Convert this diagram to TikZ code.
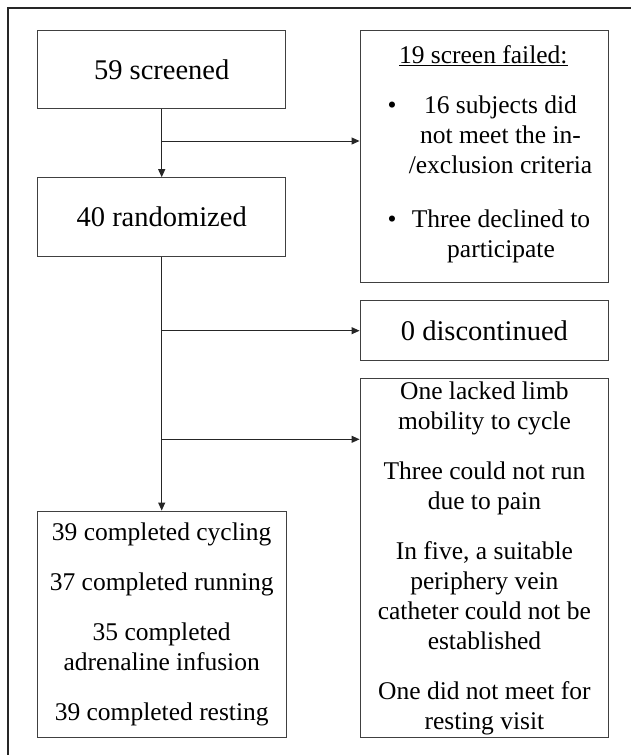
\documentclass[tikz,border=0pt]{standalone}
\usepackage{fontspec}
\setmainfont{Liberation Serif}
\usetikzlibrary{arrows.meta}
\newcommand{\letragrande}{\fontsize{28.5}{33}\selectfont}
\newcommand{\letrachica}{\fontsize{25.5}{30}\selectfont}
\newcommand{\lineas}[1]{\begin{tabular}[t]{@{}c@{}}#1\end{tabular}}
\tikzset{
  caja/.style={draw=black!75, line width=1pt, inner sep=0pt, align=center},
  flecha/.style={draw=black!85, line width=1pt, -{Triangle[length=8pt,width=7pt]}},
}

\begin{document}
\begin{tikzpicture}[x=1pt,y=-1pt] % unidades en pixeles
    \useasboundingbox (0,0) rectangle (631,755);
    % marco exterior
    \draw[black!85, line width=1.8pt] (8.3,755) -- (8.3,8.3) -- (631,8.3);
    % columna izquierda
    \node[caja, minimum width=248.4pt, minimum height=78.7pt, font=\letragrande] (screened) at (161.7,69.4) {59 screened};
    \node[caja, minimum width=248.4pt, minimum height=79pt, font=\letragrande] (randomized) at (161.7,217.2) {40 randomized};
    \node[caja, minimum width=248.7pt, minimum height=226.3pt, font=\letrachica] (completed) at (161.7,624.2)
        {39 completed cycling\\[20pt] 37 completed running\\[20pt] 35 completed\\adrenaline infusion\\[20pt] 39 completed resting};
    % columna derecha
    \node[caja, minimum width=248.7pt, minimum height=252.7pt] (failed) at (484.4,156.4) {};
    \node[font=\letrachica, anchor=base] (failtitle) at (483.3,63.3) {\underline{19 screen failed:}};
    \node[font=\letrachica, anchor=base] (bullet1) at (392,113.3) {\textbullet};
    \node[font=\letrachica, anchor=base] (reason1) at (500.5,113.3) {\lineas{16 subjects did\\not meet the in-\\/exclusion criteria}};
    \node[font=\letrachica, anchor=base] (bullet2) at (392,227.7) {\textbullet};
    \node[font=\letrachica, anchor=base] (reason2) at (501,227.7) {\lineas{Three declined to\\participate}};
    \node[caja, minimum width=248.7pt, minimum height=60pt, font=\letragrande] (discontinued) at (484.4,330.7) {0 discontinued};
    \node[caja, minimum width=248.7pt, minimum height=358.3pt, font=\letrachica] (dropouts) at (484.4,557.9)
        {One lacked limb\\mobility to cycle\\[20pt] Three could not run\\due to pain\\[20pt] In five, a suitable\\periphery vein\\catheter could not be\\established\\[20pt] One did not meet for\\resting visit};
    % flechas
    \coordinate (split1) at (161.7,141);
    \coordinate (split3) at (161.7,439.3);
    \draw[flecha] (screened.south) -- (randomized.north);
    \draw[flecha] (split1) -- (split1 -| failed.west);
    \draw[flecha] (randomized.south) -- (completed.north);
    \draw[flecha] (randomized.south |- discontinued.west) -- (discontinued.west);
    \draw[flecha] (split3) -- (split3 -| dropouts.west);
\end{tikzpicture}
\end{document}
